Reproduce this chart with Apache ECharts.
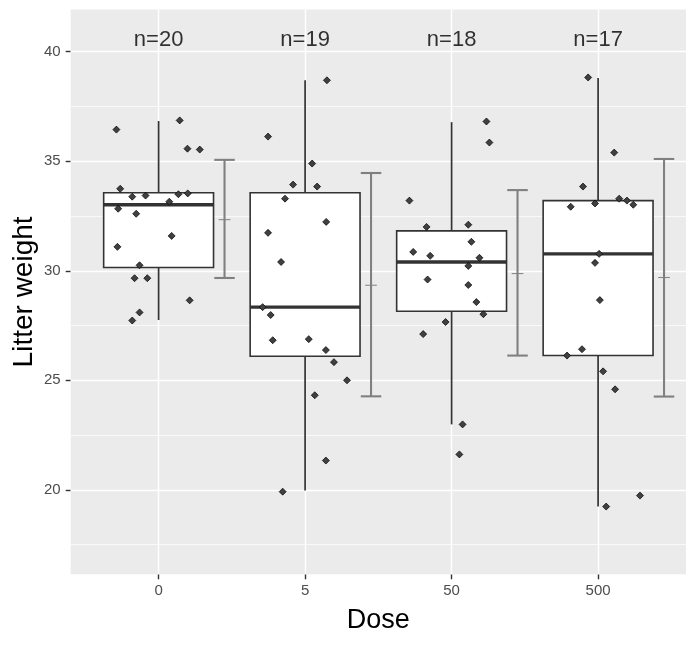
<!DOCTYPE html>
<html>
<head>
<meta charset="utf-8">
<title>Litter weight by dose</title>
<script src="https://cdn.jsdelivr.net/npm/echarts@6/dist/echarts.min.js"></script>
<style>
  html, body { margin: 0; padding: 0; background: #fff; }
  #main { width: 697px; height: 645px; }
</style>
</head>
<body>
<div id="main"></div>
<script>
// categories on the x axis
const doses = ["0", "5", "50", "500"];
const counts = [20, 19, 18, 17];

// litter weights per dose and their jitter along x
const w0 = [36.44, 36.86, 35.57, 35.53, 33.74, 33.38, 33.43, 33.49, 33.53, 33.15, 32.83, 32.60, 31.59, 31.09, 30.25, 29.66, 29.66, 28.65, 28.10, 27.73];
const j0 = [-0.288, 0.144, 0.197, 0.281, -0.262, -0.180, -0.089, 0.135, 0.199, 0.073, -0.276, -0.153, 0.089, -0.281, -0.130, -0.164, -0.077, 0.212, -0.130, -0.180];
const w5 = [38.69, 36.12, 34.89, 33.93, 33.84, 33.29, 32.23, 31.73, 30.40, 28.34, 27.98, 26.83, 26.88, 26.38, 25.83, 25.00, 24.32, 21.34, 19.92];
const j5 = [0.149, -0.253, 0.048, -0.082, 0.082, -0.137, 0.144, -0.253, -0.164, -0.290, -0.235, -0.221, 0.025, 0.142, 0.197, 0.286, 0.066, 0.142, -0.153];
const w50 = [36.81, 35.85, 33.20, 32.00, 32.10, 31.32, 30.86, 30.68, 30.59, 30.22, 29.60, 29.35, 28.57, 28.02, 27.66, 27.11, 22.99, 21.62];
const j50 = [0.238, 0.258, -0.288, -0.171, 0.114, 0.135, -0.262, -0.146, 0.190, 0.114, -0.164, 0.114, 0.169, 0.217, -0.041, -0.194, 0.075, 0.053];
const w500 = [38.82, 35.39, 33.84, 32.92, 33.07, 33.29, 33.20, 33.01, 30.77, 30.36, 28.66, 26.42, 26.13, 25.41, 24.59, 19.74, 19.24];
const j500 = [-0.068, 0.110, -0.103, -0.187, -0.021, 0.144, 0.197, 0.240, 0.007, -0.021, 0.012, -0.110, -0.212, 0.034, 0.116, 0.286, 0.055];

// box plot stats per dose
const boxMin = [27.75, 19.97, 22.99, 19.24];
const boxQ1 = [30.15, 26.10, 28.15, 26.13];
const boxMed = [33.01, 28.34, 30.40, 30.77];
const boxQ3 = [33.56, 33.56, 31.82, 33.20];
const boxMax = [36.83, 38.69, 36.78, 38.80];

// mean +/- sd error bars
const meanVals = [32.33, 29.34, 29.87, 29.69];
const sdLow = [29.67, 24.27, 26.13, 24.26];
const sdHigh = [35.06, 34.46, 33.68, 35.10];

// axis ticks
const yBreaks = [20, 25, 30, 35, 40];
const yMinor = [17.5, 22.5, 27.5, 32.5, 37.5];
const nLabelY = 40.53;

const FONT = "Liberation Sans, Arial, sans-serif";
const BOX_HALF = 0.375;
const ERR_SHIFT = 0.45;

var chart = echarts.init(document.getElementById("main"));

const weights = [w0, w5, w50, w500];
const jitters = [j0, j5, j50, j500];
const points = [];
weights.forEach((ws, g) => {
  ws.forEach((v, i) => points.push([g + 1 + jitters[g][i], v]));
});

const boxData = doses.map((d, i) => [i + 1, boxMin[i], boxQ1[i], boxMed[i], boxQ3[i], boxMax[i]]);
const errData = doses.map((d, i) => [i + 1 + ERR_SHIFT, meanVals[i], sdLow[i], sdHigh[i]]);

// grid lines drawn as mark lines so the x ones sit on categories
const gridLines = [];
doses.forEach((d, i) => gridLines.push({ xAxis: i + 1, lineStyle: { width: 1.4 } }));
yBreaks.forEach(v => gridLines.push({ yAxis: v, lineStyle: { width: 1.4 } }));
yMinor.forEach(v => gridLines.push({ yAxis: v, lineStyle: { width: 0.7 } }));

function renderBox(params, api) {
  const x = api.value(0);
  const pMin = api.coord([x, api.value(1)]);
  const pQ1 = api.coord([x, api.value(2)]);
  const pMed = api.coord([x, api.value(3)]);
  const pQ3 = api.coord([x, api.value(4)]);
  const pMax = api.coord([x, api.value(5)]);
  const left = api.coord([x - BOX_HALF, 0])[0];
  const right = api.coord([x + BOX_HALF, 0])[0];
  const stroke = { stroke: "#333333", lineWidth: 1.7 };
  return {
    type: "group",
    children: [
      { type: "line", shape: { x1: pQ3[0], y1: pQ3[1], x2: pMax[0], y2: pMax[1] }, style: stroke },
      { type: "line", shape: { x1: pQ1[0], y1: pQ1[1], x2: pMin[0], y2: pMin[1] }, style: stroke },
      {
        type: "rect",
        shape: { x: left, y: pQ3[1], width: right - left, height: pQ1[1] - pQ3[1] },
        style: { fill: "#ffffff", stroke: "#333333", lineWidth: 1.6 }
      },
      { type: "line", shape: { x1: left, y1: pMed[1], x2: right, y2: pMed[1] }, style: { stroke: "#333333", lineWidth: 3.4 } }
    ]
  };
}

function renderErr(params, api) {
  const x = api.value(0);
  const pMean = api.coord([x, api.value(1)]);
  const pLo = api.coord([x, api.value(2)]);
  const pHi = api.coord([x, api.value(3)]);
  const cap = api.size([0.07, 0])[0];
  const tick = api.size([0.04, 0])[0];
  const st = { stroke: "#808080", lineWidth: 2.1 };
  return {
    type: "group",
    children: [
      { type: "line", shape: { x1: pLo[0], y1: pLo[1], x2: pHi[0], y2: pHi[1] }, style: st },
      { type: "line", shape: { x1: pLo[0] - cap, y1: pLo[1], x2: pLo[0] + cap, y2: pLo[1] }, style: st },
      { type: "line", shape: { x1: pHi[0] - cap, y1: pHi[1], x2: pHi[0] + cap, y2: pHi[1] }, style: st },
      { type: "line", shape: { x1: pMean[0] - tick, y1: pMean[1], x2: pMean[0] + tick, y2: pMean[1] }, style: { stroke: "#808080", lineWidth: 1 } }
    ]
  };
}

const option = {
  animation: false,
  backgroundColor: "#ffffff",
  textStyle: { fontFamily: FONT },
  grid: {
    left: 70.7,
    right: 11,
    top: 9.5,
    bottom: 70.7,
    show: true,
    backgroundColor: "#EBEBEB",
    borderWidth: 0,
    outerBoundsMode: "none"
  },
  xAxis: {
    type: "value",
    min: 0.4,
    max: 4.6,
    name: "Dose",
    nameLocation: "middle",
    nameGap: 33,
    nameMoveOverlap: false,
    nameTextStyle: { fontSize: 27, color: "#000000", fontFamily: FONT },
    axisLine: { show: false },
    axisTick: { show: true, length: 5, customValues: [1, 2, 3, 4], lineStyle: { color: "#333333", width: 1.4 } },
    axisLabel: {
      customValues: [1, 2, 3, 4],
      formatter: v => doses[Math.round(v) - 1],
      color: "#4D4D4D",
      fontSize: 15,
      margin: 9,
      fontFamily: FONT
    },
    splitLine: { show: false }
  },
  yAxis: {
    type: "value",
    min: 16.15,
    max: 41.92,
    name: "Litter weight",
    nameLocation: "middle",
    nameGap: 32,
    nameMoveOverlap: false,
    nameTextStyle: { fontSize: 28, color: "#000000", fontFamily: FONT },
    axisLine: { show: false },
    axisTick: { show: true, length: 5, customValues: yBreaks, lineStyle: { color: "#333333", width: 1.4 } },
    axisLabel: {
      customValues: yBreaks,
      color: "#4D4D4D",
      fontSize: 15,
      margin: 10,
      fontFamily: FONT
    },
    splitLine: { show: false }
  },
  series: [
    {
      type: "scatter",
      data: [],
      silent: true,
      z: 1,
      markLine: {
        silent: true,
        z: 1,
        symbol: "none",
        label: { show: false },
        lineStyle: { color: "#ffffff", type: "solid" },
        data: gridLines
      }
    },
    {
      type: "custom",
      renderItem: renderBox,
      data: boxData,
      encode: { x: 0, y: [1, 2, 3, 4, 5] },
      z: 2,
      silent: true
    },
    {
      type: "custom",
      renderItem: renderErr,
      data: errData,
      encode: { x: 0, y: [1, 2, 3] },
      z: 2,
      silent: true
    },
    {
      type: "scatter",
      data: points,
      symbol: "diamond",
      symbolSize: 7,
      itemStyle: { color: "#404040", borderColor: "#000000", borderWidth: 0.7, opacity: 1 },
      z: 3,
      silent: true
    },
    {
      type: "scatter",
      data: counts.map((n, i) => [i + 1, nLabelY]),
      symbolSize: 0,
      z: 4,
      silent: true,
      label: {
        show: true,
        position: "inside",
        formatter: p => "n=" + counts[p.dataIndex],
        fontSize: 22,
        color: "#000000",
        fontFamily: FONT
      }
    }
  ]
};

chart.setOption(option);
</script>
</body>
</html>
